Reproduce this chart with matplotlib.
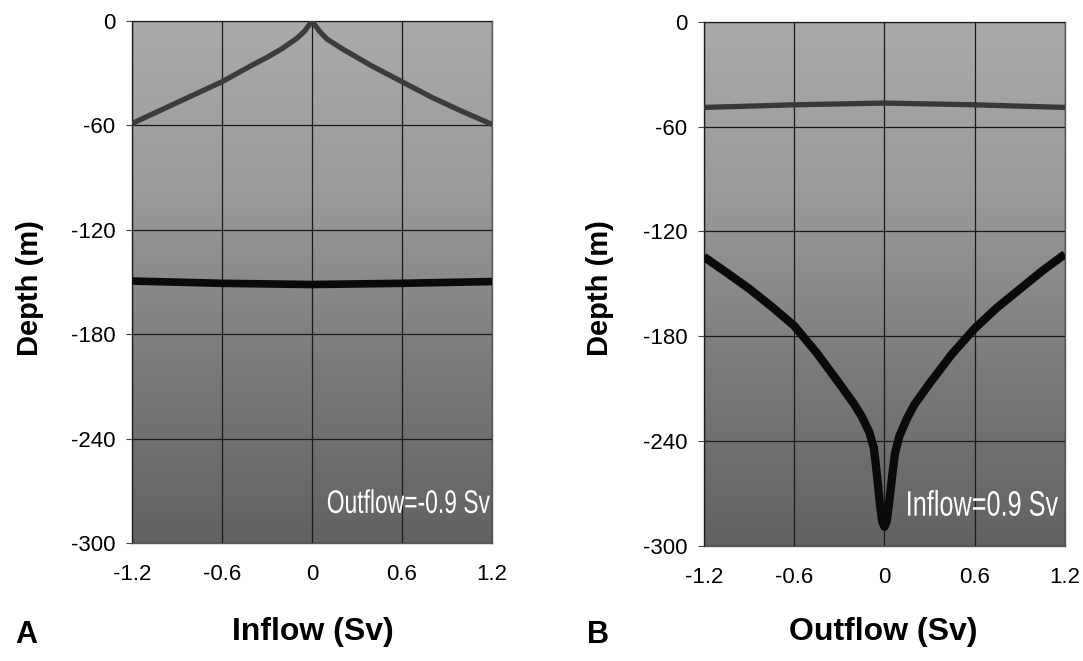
import numpy as np
import matplotlib
matplotlib.use("Agg")
import matplotlib.pyplot as plt
from matplotlib.colors import LinearSegmentedColormap
from matplotlib.textpath import TextPath
from matplotlib.patches import PathPatch
from matplotlib.font_manager import FontProperties
from matplotlib.transforms import Affine2D, ScaledTranslation

plt.rcParams['font.family'] = ['Liberation Sans', 'DejaVu Sans']
plt.rcParams['axes.unicode_minus'] = False

# panel A: depth of interfaces vs inflow (outflow fixed at -0.9 Sv)
inflow_x = [-1.2, -1.0, -0.8, -0.6, -0.4, -0.3, -0.2, -0.1, -0.05, -0.02, 0.0,
            0.02, 0.05, 0.1, 0.2, 0.3, 0.4, 0.6, 0.8, 1.0, 1.2]
a_upper = [-59, -51, -43, -35, -25.5, -21, -16, -10, -6, -2.5, 0,
           -2.5, -6, -10.5, -16, -21, -26, -35, -44, -52, -59.5]
a_lower_x = [-1.2, -0.6, 0.0, 0.6, 1.2]
a_lower = [-149.5, -150.8, -151.5, -150.8, -149.8]

# panel B: depth of interfaces vs outflow (inflow fixed at 0.9 Sv)
b_upper_x = [-1.2, -0.6, 0.0, 0.6, 1.2]
b_upper = [-49, -47.5, -46.5, -47.5, -49]
outflow_x = [-1.2, -1.05, -0.9, -0.75, -0.6, -0.45, -0.3, -0.2, -0.15, -0.1, -0.07,
             -0.05, -0.03, -0.015, 0.0, 0.015, 0.03, 0.05, 0.07, 0.1, 0.15, 0.2,
             0.3, 0.45, 0.6, 0.75, 0.9, 1.05, 1.2]
b_lower = [-134.5, -143.5, -152.7, -163, -174, -189.5, -207, -219, -226, -235, -244,
           -259, -276, -286, -289, -286, -276, -261, -247, -237, -227, -219,
           -207, -190, -175.5, -163.5, -153, -142.5, -133]

xticks = [-1.2, -0.6, 0, 0.6, 1.2]
xticklabels = ['-1.2', '-0.6', '0', '0.6', '1.2']
yticks = [0, -60, -120, -180, -240, -300]

bg = LinearSegmentedColormap.from_list('bg', ['#626262', '#7a7a7a', '#9a9a9a', '#aaaaaa'])

fig = plt.figure(figsize=(10.83, 6.61), dpi=100)
axA = fig.add_axes([0.1219, 0.1785, 0.3324, 0.790])
axB = fig.add_axes([0.650, 0.174, 0.3333, 0.793])


def style(ax):
    grad = np.linspace(0, 1, 256).reshape(-1, 1)
    ax.imshow(grad, extent=[-1.2, 1.2, -300, 0], origin='lower', cmap=bg,
              aspect='auto', zorder=0)
    ax.set_xlim(-1.2, 1.2)
    ax.set_ylim(-300, 0)
    ax.set_xticks(xticks)
    ax.set_xticklabels(xticklabels)
    ax.set_yticks(yticks)
    ax.grid(True, color='#1a1a1a', lw=0.9, zorder=1)
    ax.set_axisbelow(False)
    ax.tick_params(axis='x', length=0, pad=15, labelsize=16)
    ax.tick_params(axis='y', length=4, pad=8, labelsize=16, color='#444444')
    for s in ax.spines.values():
        s.set_color('#5a5a5a')
        s.set_linewidth(1.0)
    ax.spines['left'].set_color('#333333')


def squeezed(ax, s, x, y, width_px, height_px):
    # condensed white label, right-aligned at (x, y) in axes fraction
    tp = TextPath((0, 0), s, size=1, prop=FontProperties(family='Liberation Sans'))
    ext = tp.get_extents()
    tr = (Affine2D().translate(-ext.x1, -(ext.y0 + ext.y1) / 2)
          .scale(width_px / ext.width, height_px / ext.height)
          + ScaledTranslation(x, y, ax.transAxes))
    ax.add_patch(PathPatch(tp, transform=tr, facecolor='white', lw=0,
                           clip_on=False, zorder=4))


style(axA)
axA.plot(inflow_x, a_upper, color='#3c3c3c', lw=3.8, zorder=3,
         solid_capstyle='butt', solid_joinstyle='round')
axA.plot(a_lower_x, a_lower, color='#0a0a0a', lw=5.5, zorder=3, solid_capstyle='butt')
squeezed(axA, 'Outflow=-0.9 Sv', 0.994, 0.08, 162, 24)

style(axB)
axB.plot(b_upper_x, b_upper, color='#383838', lw=3.8, zorder=3, solid_capstyle='butt')
axB.plot(outflow_x, b_lower, color='#0a0a0a', lw=6.0, zorder=3,
         solid_capstyle='butt', solid_joinstyle='round')
squeezed(axB, 'Inflow=0.9 Sv', 0.981, 0.082, 150, 26)

# axis labels and panel letters
lab = dict(fontweight='bold', ha='center', va='center')
fig.text(30 / 1083, 1 - 288 / 661, 'Depth (m)', rotation=90, fontsize=21, **lab)
fig.text(600 / 1083, 1 - 288 / 661, 'Depth (m)', rotation=90, fontsize=21, **lab)
fig.text(313 / 1083, 1 - 632 / 661, 'Inflow (Sv)', fontsize=23, **lab)
fig.text(883 / 1083, 1 - 632 / 661, 'Outflow (Sv)', fontsize=23, **lab)
fig.text(26 / 1083, 1 - 635 / 661, 'A', fontsize=22, **lab)
fig.text(598 / 1083, 1 - 635 / 661, 'B', fontsize=22, **lab)

fig.savefig('out.png', dpi=100)
